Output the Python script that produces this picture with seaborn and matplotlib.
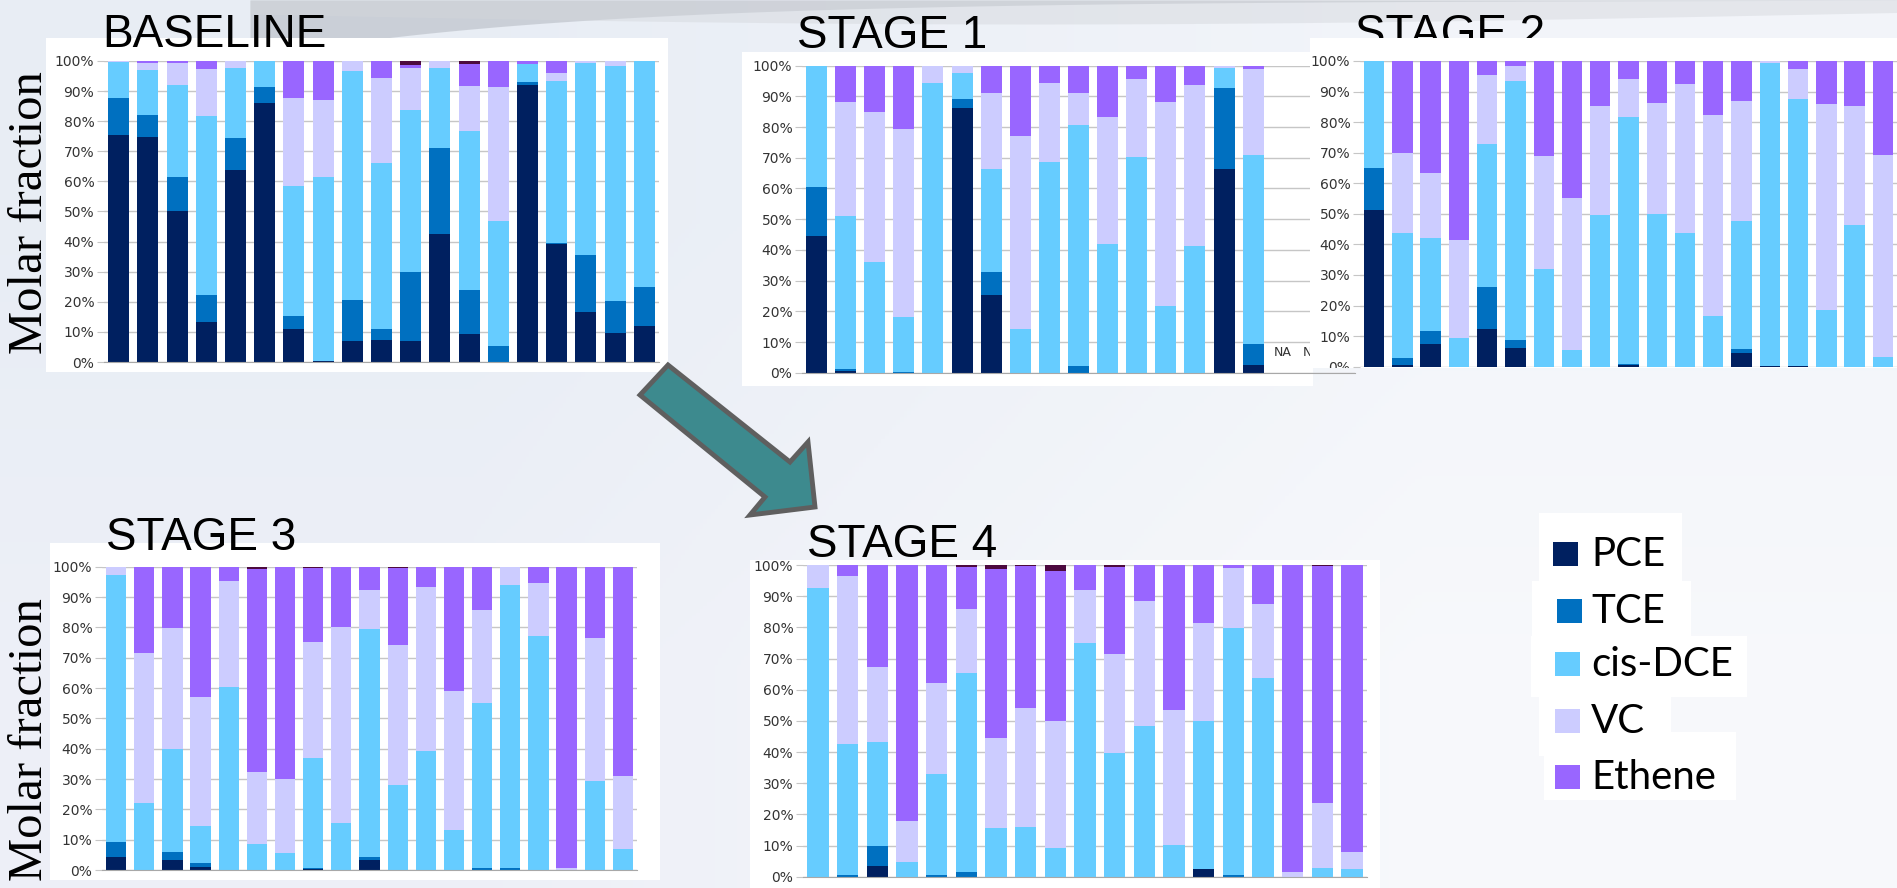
import numpy as np
import pandas as pd
import matplotlib
matplotlib.use("Agg")
import matplotlib.pyplot as plt
from matplotlib.patches import Rectangle, Polygon
from matplotlib.transforms import Bbox, TransformedBbox
import seaborn as sns

W, H = 1897, 888

# ---- data (molar fraction, %) ----
wells = [str(i) for i in range(1, 20)]
components = ["PCE", "TCE", "cis-DCE", "VC", "Ethene", "other"]
colors = {"PCE": "#002060", "TCE": "#0070c0", "cis-DCE": "#66ccff",
          "VC": "#ccccff", "Ethene": "#9966ff", "other": "#4d0a3f"}

base_pce = [75.4, 74.9, 50.3, 13.2, 63.8, 86.2, 11.0, 0.3, 6.9, 7.4, 6.9, 42.6, 9.3, 0.0, 92.0, 39.2, 16.6, 9.6, 11.8]
base_tce = [12.4, 7.2, 11.0, 9.1, 10.5, 5.1, 4.4, 0.0, 13.8, 3.6, 23.1, 28.6, 14.7, 5.2, 1.1, 0.3, 18.8, 10.5, 13.1]
base_dce = [12.0, 14.9, 30.7, 59.3, 23.3, 8.7, 43.1, 61.0, 76.0, 55.0, 53.7, 26.4, 52.8, 41.8, 5.8, 53.9, 63.8, 78.4, 75.1]
base_vc = [0.2, 2.5, 7.5, 15.6, 2.4, 0.0, 29.3, 25.7, 3.3, 28.5, 13.9, 2.4, 15.0, 44.2, 0.0, 2.7, 0.8, 1.5, 0.0]
base_eth = [0.0, 0.5, 0.5, 2.8, 0.0, 0.0, 12.2, 13.0, 0.0, 5.5, 1.2, 0.0, 7.1, 8.8, 1.1, 3.9, 0.0, 0.0, 0.0]
base_other = [0, 0, 0, 0, 0, 0, 0, 0, 0, 0, 1.2, 0, 1.1, 0, 0, 0, 0, 0, 0]

nan = np.nan
s1_pce = [44.6, 0.7, 0.0, 0.0, 0.0, 86.1, 25.3, 0.0, 0.0, 0.0, 0.0, 0.0, 0.0, 0.0, 66.2, 2.5, nan, nan, nan]
s1_tce = [16.0, 0.4, 0.0, 0.3, 0.0, 2.9, 7.6, 0.0, 0.0, 2.2, 0.0, 0.0, 0.0, 0.0, 26.6, 6.7, nan, nan, nan]
s1_dce = [39.4, 49.9, 36.2, 17.7, 94.5, 8.7, 33.4, 14.1, 68.7, 78.5, 41.9, 70.1, 21.8, 41.3, 6.5, 61.7, nan, nan, nan]
s1_vc = [0.0, 37.3, 48.8, 61.3, 5.5, 2.3, 24.9, 63.1, 25.8, 10.3, 41.5, 25.6, 66.5, 52.4, 0.7, 28.0, nan, nan, nan]
s1_eth = [0.0, 11.7, 15.0, 20.7, 0.0, 0.0, 8.8, 22.8, 5.5, 9.0, 16.6, 4.3, 11.7, 6.3, 0.0, 1.1, nan, nan, nan]
s1_other = [0] * 16 + [nan, nan, nan]

s2_pce = [51.3, 0.5, 7.3, 0.0, 12.3, 6.0, 0.0, 0.0, 0.0, 0.5, 0.0, 0.0, 0.0, 4.6, 0.3, 0.3, 0.0, 0.0, 0.0]
s2_tce = [13.6, 2.2, 4.4, 0.0, 13.7, 2.7, 0.0, 0.0, 0.0, 0.5, 0.0, 0.0, 0.0, 1.1, 0.0, 0.0, 0.0, 0.0, 0.0]
s2_dce = [35.1, 40.9, 30.5, 9.3, 46.8, 84.9, 32.0, 5.5, 49.6, 80.8, 49.9, 43.6, 16.6, 42.0, 98.9, 87.2, 18.5, 46.3, 3.1]
s2_vc = [0.0, 26.2, 21.3, 32.1, 22.6, 4.9, 36.9, 49.6, 35.8, 12.3, 36.3, 48.8, 65.7, 39.2, 0.8, 9.9, 67.4, 39.0, 66.1]
s2_eth = [0.0, 30.2, 36.5, 58.6, 4.6, 1.5, 31.1, 44.9, 14.6, 5.9, 13.8, 7.6, 17.7, 13.1, 0.0, 2.6, 14.1, 14.7, 30.8]
s2_other = [0] * 19

s3_pce = [4.4, 0.0, 3.3, 1.1, 0.0, 0.0, 0.0, 0.3, 0.0, 3.3, 0.0, 0.0, 0.0, 0.0, 0.0, 0.0, 0.0, 0.0, 0.0]
s3_tce = [4.7, 0.0, 2.7, 1.1, 0.0, 0.0, 0.0, 0.2, 0.0, 1.1, 0.0, 0.0, 0.0, 0.5, 0.5, 0.0, 0.0, 0.0, 0.0]
s3_dce = [88.2, 22.2, 33.8, 12.3, 60.2, 8.5, 5.5, 36.5, 15.4, 74.9, 28.0, 39.2, 13.2, 54.4, 93.5, 77.3, 0.0, 29.5, 6.9]
s3_vc = [2.7, 49.2, 39.9, 42.6, 35.1, 23.7, 24.4, 38.3, 64.6, 13.0, 46.1, 54.2, 45.8, 30.8, 6.0, 17.2, 0.8, 46.9, 24.1]
s3_eth = [0.0, 28.6, 20.3, 42.9, 4.7, 66.9, 70.1, 24.2, 20.0, 7.7, 25.4, 6.6, 41.0, 14.3, 0.0, 5.5, 99.2, 23.6, 69.0]
s3_other = [0, 0, 0, 0, 0, 0.9, 0, 0.5, 0, 0, 0.5, 0, 0, 0, 0, 0, 0, 0, 0]

s4_pce = [0.0, 0.0, 3.4, 0.0, 0.0, 0.0, 0.0, 0.0, 0.0, 0.0, 0.0, 0.0, 0.0, 2.5, 0.0, 0.0, 0.0, 0.0, 0.0]
s4_tce = [0.0, 0.7, 6.4, 0.0, 0.5, 1.4, 0.0, 0.0, 0.0, 0.0, 0.0, 0.0, 0.0, 0.0, 0.5, 0.0, 0.0, 0.0, 0.0]
s4_dce = [92.7, 41.8, 33.5, 4.6, 32.3, 63.8, 15.5, 15.8, 9.3, 75.1, 39.8, 48.3, 10.2, 47.4, 79.2, 63.6, 0.0, 2.9, 2.5]
s4_vc = [7.3, 54.1, 24.1, 13.3, 29.2, 20.7, 28.9, 38.4, 40.7, 16.9, 31.5, 40.1, 43.3, 31.4, 19.4, 23.9, 1.4, 20.6, 5.3]
s4_eth = [0.0, 3.4, 32.6, 82.1, 38.0, 13.4, 54.2, 45.5, 48.0, 8.0, 28.0, 11.6, 46.5, 18.7, 0.9, 12.5, 98.6, 76.2, 92.2]
s4_other = [0, 0, 0, 0, 0, 0.7, 1.4, 0.3, 2.0, 0, 0.7, 0, 0, 0, 0, 0, 0, 0.3, 0]

stages = {
    "BASELINE": [base_pce, base_tce, base_dce, base_vc, base_eth, base_other],
    "STAGE 1": [s1_pce, s1_tce, s1_dce, s1_vc, s1_eth, s1_other],
    "STAGE 2": [s2_pce, s2_tce, s2_dce, s2_vc, s2_eth, s2_other],
    "STAGE 3": [s3_pce, s3_tce, s3_dce, s3_vc, s3_eth, s3_other],
    "STAGE 4": [s4_pce, s4_tce, s4_dce, s4_vc, s4_eth, s4_other],
}
na_wells = [16, 17, 18]  # stage 1, no sample

# ---- layout in pixels: plot area, white panel, title anchor ----
layout = {
    "BASELINE": dict(plot=(104, 61, 659, 362), panel=(46, 38, 668, 372), title=(102, 47)),
    "STAGE 1": dict(plot=(802, 65.7, 1355, 372.7), panel=(742, 52, 1313, 386), title=(797, 48)),
    "STAGE 2": dict(plot=(1360, 61, 1897, 366.7), panel=(1310, 38, 1897, 368), title=(1355, 47)),
    "STAGE 3": dict(plot=(102, 566.7, 637, 870), panel=(50, 543, 660, 880), title=(106, 550)),
    "STAGE 4": dict(plot=(803, 565, 1367, 876.7), panel=(750, 560, 1380, 888), title=(807, 557)),
}

sns.set_style("white")
plt.rcParams["font.family"] = ["DejaVu Sans"]

fig = plt.figure(figsize=(W / 100, H / 100), dpi=100)
fig.patch.set_facecolor("#eef1f7")


def frac(x0, y0, x1, y1):
    return [x0 / W, 1 - y1 / H, (x1 - x0) / W, (y1 - y0) / H]


def overlay(z):
    a = fig.add_axes([0, 0, 1, 1], zorder=z)
    a.set_xlim(0, W)
    a.set_ylim(H, 0)
    a.axis("off")
    a.patch.set_alpha(0)
    return a


def stacked(ax, values):
    df = pd.DataFrame(dict(zip(components, values)), index=wells).fillna(0)
    cum = df[components].cumsum(axis=1)
    for comp in reversed(components):
        sns.barplot(x=wells, y=cum[comp].values, order=wells, color=colors[comp],
                    saturation=1, width=0.72, linewidth=0, errorbar=None, ax=ax)


def style(ax):
    n = len(wells)
    ax.set_xlim(-0.5, n - 0.5)
    ax.set_ylim(0, 100)
    ax.set_yticks(range(0, 101, 10))
    ax.set_yticklabels([f"{v}%" for v in range(0, 101, 10)])
    ax.set_xticks(np.arange(n + 1) - 0.5)
    ax.set_xticklabels([])
    ax.set_xlabel("")
    ax.set_ylabel("")
    ax.yaxis.grid(True, color="#c6c6c6", linewidth=1)
    ax.set_axisbelow(True)
    for s in ["left", "top", "right"]:
        ax.spines[s].set_visible(False)
    ax.spines["bottom"].set_color("#a8a8a8")
    ax.tick_params(axis="x", length=5, color="#a8a8a8", direction="out")
    ax.tick_params(axis="y", length=5, color="#c6c6c6", labelsize=10,
                   labelcolor="#333333", pad=2, left=True)
    ax.patch.set_alpha(0)


# background layer
bg = overlay(0)
grad = np.array([[[0.91, 0.93, 0.96], [0.95, 0.96, 0.98]],
                 [[0.93, 0.94, 0.97], [0.97, 0.975, 0.985]]])
bg.imshow(grad, extent=[0, W, H, 0], interpolation="bilinear", aspect="auto")
# silver swoosh along the top edge
sx = np.linspace(250, W, 300)
bg.fill_between(sx, 0, 58 * np.exp(-(sx - 250) / 320), color="#aeb3bb", alpha=0.5, lw=0)
bg.fill_between(sx, 0, 14 + 10 * np.sin((sx - 250) / 500), color="#d3d6db", alpha=0.45, lw=0)
for name, lay in layout.items():
    if name != "STAGE 2":
        x0, y0, x1, y1 = lay["panel"]
        bg.add_patch(Rectangle((x0, y0), x1 - x0, y1 - y0, color="white", lw=0))
    tx, ty = lay["title"]
    bg.text(tx, ty, name, fontsize=33, family=["Liberation Sans", "DejaVu Sans"],
            color="black", va="baseline", ha="left")

# stage 2 panel sits on top of stage 1
mid = overlay(2)
x0, y0, x1, y1 = layout["STAGE 2"]["panel"]
mid.add_patch(Rectangle((x0, y0), x1 - x0, y1 - y0, color="white", lw=0))

for name, values in stages.items():
    ax = fig.add_axes(frac(*layout[name]["plot"]), zorder=3 if name == "STAGE 2" else 1)
    stacked(ax, values)
    style(ax)
    if name == "STAGE 1":
        for i in na_wells:
            ax.text(i, 6.5, "NA", ha="center", va="center", fontsize=9, color="#333333")
    if name == "STAGE 2":
        ax.spines["bottom"].set_visible(False)
        ax.tick_params(axis="x", length=0)
        clip = TransformedBbox(Bbox.from_extents(1300 / W, 1 - 368 / H, 1, 1), fig.transFigure)
        for t in ax.yaxis.get_major_ticks():
            t.label1.set_clip_box(clip)
            t.label1.set_clip_on(True)

# foreground: arrow, axis labels, legend
fg = overlay(4)
arrow_pts = [(640, 395), (668, 365), (790, 462), (808, 442), (815, 507), (750, 515), (765, 497)]
fg.add_patch(Polygon(arrow_pts, closed=True, facecolor="#3d8a8e", edgecolor="#5f5f5f",
                     lw=3.5, joinstyle="miter"))

for cy in [213, 740]:
    fg.text(30, cy, "Molar fraction", rotation=90, ha="center", va="center", fontsize=35,
            family=["Liberation Serif", "DejaVu Serif"], color="black")

legend_boxes = [(1539, 513, 1682, 581), (1532, 581, 1691, 636), (1531, 636, 1747, 697),
                (1539, 697, 1671, 756), (1544, 732, 1736, 800)]
legend_y = [554, 611, 664, 721, 777]
legend_sq = [1553, 1557, 1555, 1555, 1555]
for box in legend_boxes:
    bx0, by0, bx1, by1 = box
    fg.add_patch(Rectangle((bx0, by0), bx1 - bx0, by1 - by0, color="white", lw=0))
for comp, cy, sq in zip(components[:5], legend_y, legend_sq):
    fg.add_patch(Rectangle((sq, cy - 12), 25, 24, color=colors[comp], lw=0))
    fg.text(1591, cy, comp, fontsize=29, family=["Lato", "DejaVu Sans"], color="black",
            va="center", ha="left")

fig.savefig("out.png", dpi=100, facecolor=fig.get_facecolor())
